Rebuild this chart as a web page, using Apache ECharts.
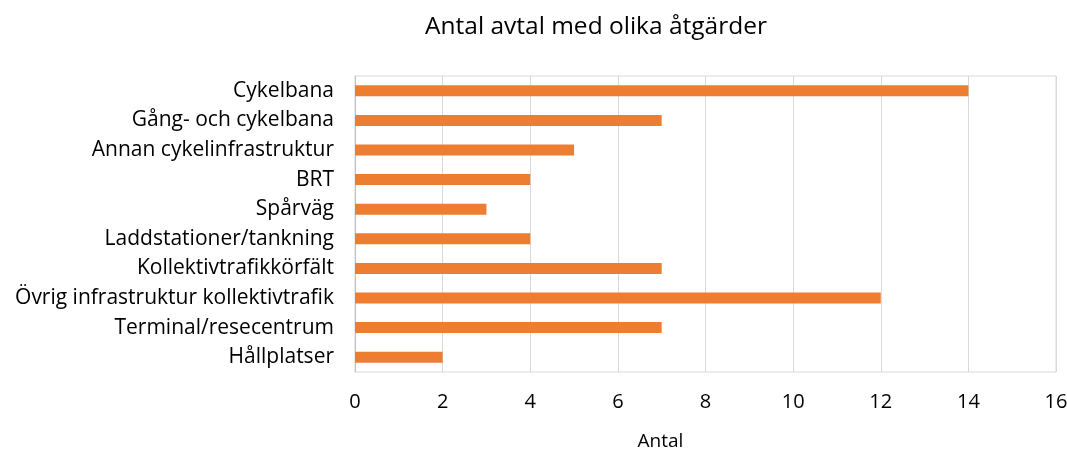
<!DOCTYPE html>
<html>
<head>
<meta charset="utf-8">
<script src="https://cdn.jsdelivr.net/npm/echarts@6/dist/echarts.min.js"></script>
<style>
  html, body { margin: 0; padding: 0; background: #fff; }
  #chart { width: 1067px; height: 450px; }
</style>
</head>
<body>
<div id="chart"></div>
<script>
  // kategorier, uppifrån och ned
  const categories = [
    'Cykelbana',
    'Gång- och cykelbana',
    'Annan cykelinfrastruktur',
    'BRT',
    'Spårväg',
    'Laddstationer/tankning',
    'Kollektivtrafikkörfält',
    'Övrig infrastruktur kollektivtrafik',
    'Terminal/resecentrum',
    'Hållplatser'
  ];
  const antal = [14, 7, 5, 4, 3, 4, 7, 12, 7, 2];
  const xTicks = { min: 0, max: 16, interval: 2 };

  let myChart = echarts.init(document.getElementById('chart'));
  let option = {
    color: ['#ED7D31'],
    textStyle: { fontFamily: '"Open Sans", sans-serif' },
    title: {
      text: 'Antal avtal med olika åtgärder',
      left: 591,
      textAlign: 'center',
      top: 10,
      textStyle: { fontSize: 24.5, fontWeight: 'normal', color: '#000' }
    },
    grid: {
      left: 355,
      right: 11,
      top: 76,
      bottom: 78,
      outerBoundsMode: 'none',
      containLabel: false,
      show: true,
      borderColor: '#d9d9d9',
      borderWidth: 1
    },
    xAxis: {
      type: 'value',
      min: xTicks.min,
      max: xTicks.max,
      interval: xTicks.interval,
      name: 'Antal',
      nameLocation: 'middle',
      nameGap: 60,
      nameTextStyle: { fontSize: 19, color: '#000', padding: [0, 90, 0, 0] },
      axisLine: { show: false },
      axisTick: { show: false },
      axisLabel: { fontSize: 20, color: '#000', margin: 20 },
      splitLine: { lineStyle: { color: '#d9d9d9' } }
    },
    yAxis: {
      type: 'category',
      inverse: true,
      data: categories,
      axisLine: { lineStyle: { color: '#bfbfbf' } },
      axisTick: { show: false },
      axisLabel: { fontSize: 21, color: '#000', margin: 21 }
    },
    series: [
      {
        name: 'Antal',
        type: 'bar',
        data: antal,
        barWidth: 11
      }
    ]
  };
  option && myChart.setOption(option);
</script>
</body>
</html>
